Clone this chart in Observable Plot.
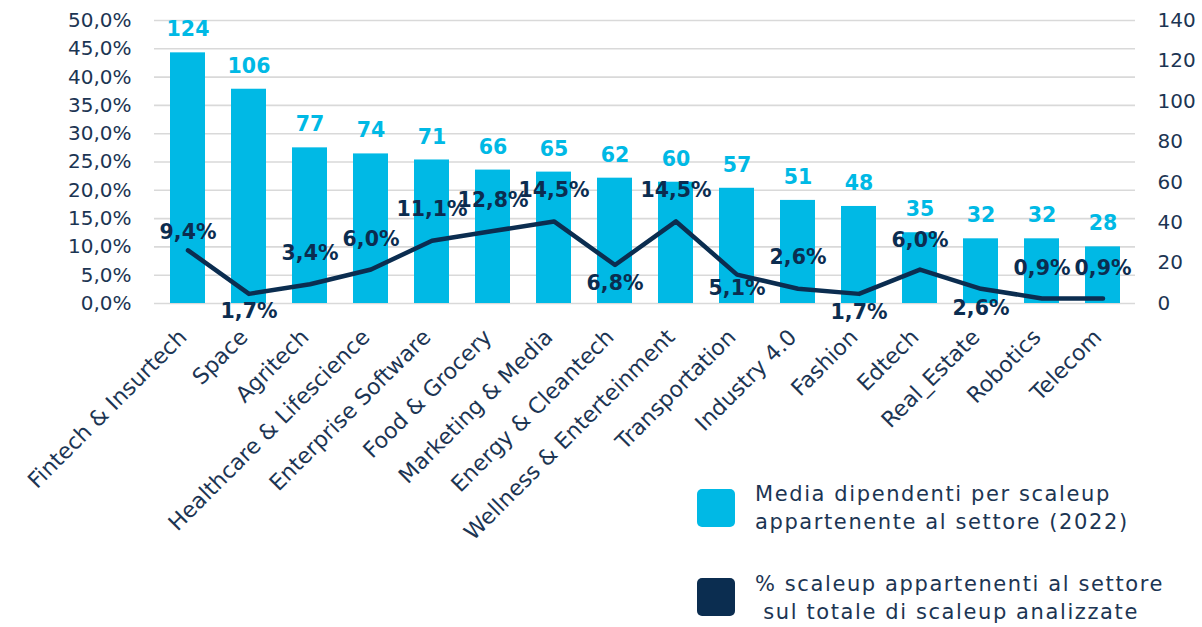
<!DOCTYPE html>
<html>
<head>
<meta charset="utf-8">
<script src="https://cdn.jsdelivr.net/npm/d3@7"></script>
<script src="https://cdn.jsdelivr.net/npm/@observablehq/plot@0.6"></script>
<style>
  body { margin: 0; background: #fff; }
  #wrap { position: relative; width: 1202px; height: 627px; font-family: "DejaVu Sans", sans-serif; }
  #legend { position: absolute; left: 697px; top: 0; }
  .sw { position: absolute; left: 0; width: 38px; height: 38px; border-radius: 5px; }
  .lab { position: absolute; left: 58px; font-size: 21px; letter-spacing: 1.6px; line-height: 28px; color: #1c3553; white-space: pre; }
  g[aria-label="category-labels"] text { letter-spacing: 1.6px; }
  g[aria-label="left-ticks"] text, g[aria-label="right-ticks"] text { letter-spacing: 1.4px; }
</style>
</head>
<body>
<div id="wrap"></div>
<script>
const categories = ["Fintech & Insurtech","Space","Agritech","Healthcare & Lifescience","Enterprise Software","Food & Grocery","Marketing & Media","Energy & Cleantech","Wellness & Enterteinment","Transportation","Industry 4.0","Fashion","Edtech","Real_Estate","Robotics","Telecom"];
const employees = [124,106,77,74,71,66,65,62,60,57,51,48,35,32,32,28];
const sharePct = [9.4,1.7,3.4,6.0,11.1,12.8,14.5,6.8,14.5,5.1,2.6,1.7,6.0,2.6,0.9,0.9];
const leftTicks = [0,5,10,15,20,25,30,35,40,45,50];
const rightTicks = [0,20,40,60,80,100,120,140];
const seriesNames = ["Media dipendenti per scaleup\nappartenente al settore (2022)", "% scaleup appartenenti al settore\n sul totale di scaleup analizzate"];

// layout: label offsets (px) for the line's data labels
const labelDy = [-18,18,-31,-30,-31,-31,-31,18,-31,14,-31,19,-29,20,-30,-30];

const CYAN = "#00b9e5", NAVY = "#0b2d50", TEXT = "#1c3553";
const RIGHT_MAX = 140, LEFT_MAX = 50;
const toLeft = v => v * LEFT_MAX / RIGHT_MAX;

const data = categories.map((c, i) => ({cat: c, emp: employees[i], pct: sharePct[i], dy: labelDy[i]}));
const fmtPct = v => v.toFixed(1).replace(".", ",") + "%";

const offsets = Array.from(new Set(labelDy));
const lineLabels = offsets.map(o => Plot.text(data.filter(d => d.dy === o), {
  x: "cat", y: "pct", text: d => fmtPct(d.pct), dy: o,
  fill: NAVY, fontWeight: "bold", fontSize: 20.5
}));

const chart = Plot.plot({
  width: 1202,
  height: 627,
  marginTop: 20,
  marginBottom: 324,
  marginLeft: 154,
  marginRight: 67,
  style: {fontFamily: "DejaVu Sans, sans-serif", background: "#fff", overflow: "visible"},
  x: {type: "band", domain: categories, paddingInner: 0.43, paddingOuter: 0.215, axis: null},
  y: {domain: [0, LEFT_MAX], axis: null},
  marks: [
    Plot.ruleY(leftTicks, {stroke: "#d9d9d9", strokeWidth: 1.6}),
    Plot.barY(data, {x: "cat", y: d => toLeft(d.emp), fill: CYAN}),
    Plot.text(data, {x: "cat", y: d => toLeft(d.emp), text: d => String(d.emp), dy: -23, fill: CYAN, fontWeight: "bold", fontSize: 20.5}),
    Plot.line(data, {x: "cat", y: "pct", stroke: NAVY, strokeWidth: 4.5, strokeLinecap: "round", strokeLinejoin: "round"}),
    ...lineLabels,
    Plot.text(leftTicks, {y: d => d, text: fmtPct, frameAnchor: "left", textAnchor: "end", dx: -23, fill: TEXT, fontSize: 20, ariaLabel: "left-ticks"}),
    Plot.text(rightTicks, {y: d => toLeft(d), text: d => String(d), frameAnchor: "right", textAnchor: "start", dx: 22, fill: TEXT, fontSize: 20, ariaLabel: "right-ticks"}),
    Plot.text(categories, {x: d => d, frameAnchor: "bottom", rotate: -45, textAnchor: "end", dx: 0, dy: 35, fill: TEXT, fontSize: 22, ariaLabel: "category-labels"})
  ]
});
const wrap = document.getElementById("wrap");
wrap.appendChild(chart);

// legend
const legend = document.createElement("div");
legend.id = "legend";
const tops = [489, 578];
const textTops = [480, 570];
[CYAN, NAVY].forEach((col, i) => {
  const sw = document.createElement("div");
  sw.className = "sw"; sw.style.background = col; sw.style.top = tops[i] + "px";
  legend.appendChild(sw);
  const lab = document.createElement("div");
  lab.className = "lab"; lab.style.top = textTops[i] + "px";
  lab.textContent = seriesNames[i];
  legend.appendChild(lab);
});
wrap.appendChild(legend);
</script>
</body>
</html>
